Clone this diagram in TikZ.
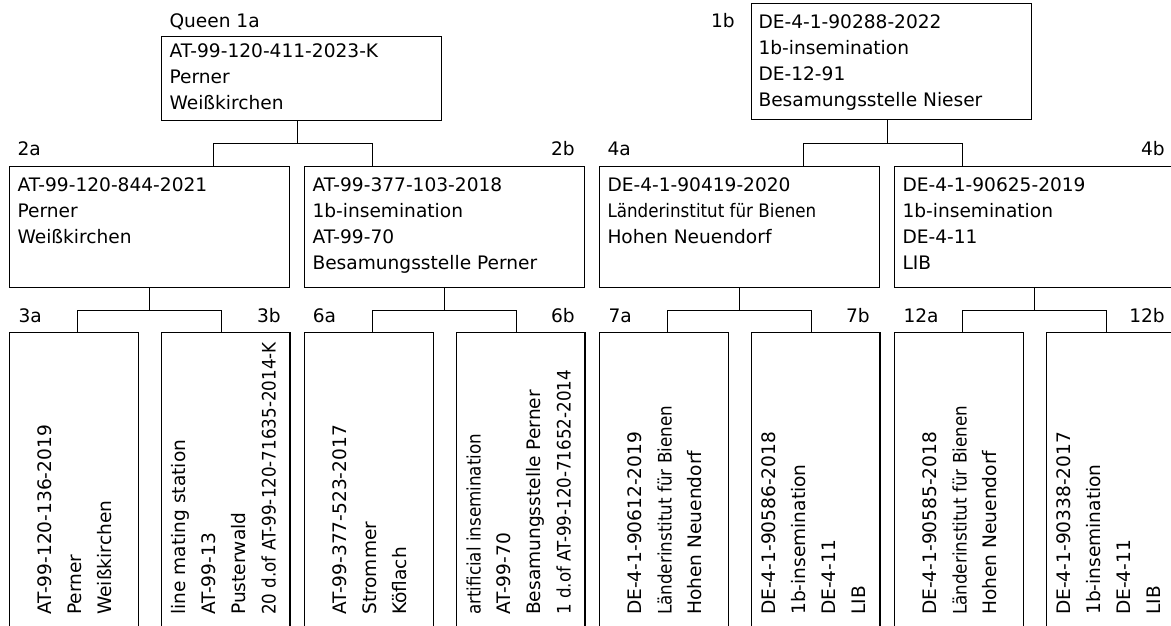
\documentclass[tikz,border=0pt]{standalone}
\usepackage{fontspec}
\setmainfont{DejaVu Sans}
\newfontfamily\condfont{DejaVu Sans Condensed}
\usetikzlibrary{positioning}

\tikzset{
	box/.style={draw, line width=1.1pt, inner sep=0pt, anchor=north west, minimum width=280pt, minimum height=121pt},
	tallbox/.style={box, minimum width=128.7pt, minimum height=320pt},
	% anchored at the baseline of the last line
	txt/.style={align=left, inner sep=0pt, anchor=base west, font=\fontsize{18.6}{26}\selectfont},
	vtxt/.style={txt, rotate=90, font=\fontsize{18.6}{30}\selectfont},
	lab/.style={inner sep=0pt, font=\fontsize{18.6}{22}\selectfont},
	link/.style={line width=1.1pt},
}

\begin{document}
\begin{tikzpicture}[x=1pt,y=-1pt]
		\useasboundingbox (0,0) rectangle (1171,626);
		% queens
		\node[box, minimum height=84.3pt] (q1a) at (160.7,35.7) {};
		\node[lab, anchor=base west] (l1a) at (169.3,27.3) {Queen 1a};
		\node[txt] (t1a) at (169.3,109.3) {AT-99-120-411-2023-K\\Perner\\Weißkirchen};
		\node[box, minimum height=115.7pt] (d1b) at (750.7,3.3) {};
		\node[lab, anchor=base east] (l1b) at (735,27.3) {1b};
		\node[txt] (t1b) at (758.3,106.3) {DE-4-1-90288-2022\\1b-insemination\\DE-12-91\\Besamungsstelle Nieser};
		% second row
		\node[box] (c2a) at (9.3,165.7) {};
		\node[lab, anchor=base west] (l2a) at (17.3,155.7) {2a};
		\node[txt] (t2a) at (17.3,243.7) {AT-99-120-844-2021\\Perner\\Weißkirchen};
		\node[box] (c2b) at (304.3,165.7) {};
		\node[lab, anchor=base east] (l2b) at (575,155.7) {2b};
		\node[txt] (t2b) at (312.3,269.7) {AT-99-377-103-2018\\1b-insemination\\AT-99-70\\Besamungsstelle Perner};
		\node[box] (c4a) at (599.3,165.7) {};
		\node[lab, anchor=base west] (l4a) at (607.3,155.7) {4a};
		\node[txt] (t4a) at (607.3,243.7) {DE-4-1-90419-2020\\{\condfont Länderinstitut für Bienen}\\Hohen Neuendorf};
		\node[box] (c4b) at (894.3,165.7) {};
		\node[lab, anchor=base east] (l4b) at (1165,155.7) {4b};
		\node[txt] (t4b) at (902.3,269.7) {DE-4-1-90625-2019\\1b-insemination\\DE-4-11\\LIB};
		% third row
		\node[tallbox] (c3a) at (9.3,332.3) {};
		\node[lab, anchor=base west] (l3a) at (18.3,322.7) {3a};
		\node[vtxt] (t3a) at (111.7,615) {AT-99-120-136-2019\\Perner\\Weißkirchen};
		\node[tallbox] (c3b) at (160.7,332.3) {};
		\node[lab, anchor=base east] (l3b) at (281,322.7) {3b};
		\node[vtxt] (t3b) at (275.5,615) {line mating station\\AT-99-13\\Pusterwald\\{\condfont 20 d.of AT-99-120-71635-2014-K}};
		\node[tallbox] (c6a) at (304.3,332.3) {};
		\node[lab, anchor=base west] (l6a) at (312.7,322.7) {6a};
		\node[vtxt] (t6a) at (406.7,615) {AT-99-377-523-2017\\Strommer\\Köflach};
		\node[tallbox] (c6b) at (455.7,332.3) {};
		\node[lab, anchor=base east] (l6b) at (575,322.7) {6b};
		\node[vtxt] (t6b) at (570.5,615) {{\condfont artificial insemination}\\AT-99-70\\Besamungsstelle Perner\\{\condfont 1 d.of AT-99-120-71652-2014}};
		\node[tallbox] (c7a) at (599.3,332.3) {};
		\node[lab, anchor=base west] (l7a) at (608.3,322.7) {7a};
		\node[vtxt] (t7a) at (701.7,615) {DE-4-1-90612-2019\\{\condfont Länderinstitut für Bienen}\\Hohen Neuendorf};
		\node[tallbox] (c7b) at (750.7,332.3) {};
		\node[lab, anchor=base east] (l7b) at (870,322.7) {7b};
		\node[vtxt] (t7b) at (865.5,615) {DE-4-1-90586-2018\\1b-insemination\\DE-4-11\\LIB};
		\node[tallbox] (c12a) at (894.3,332.3) {};
		\node[lab, anchor=base west] (l12a) at (903.3,322.7) {12a};
		\node[vtxt] (t12a) at (996.7,615) {DE-4-1-90585-2018\\{\condfont Länderinstitut für Bienen}\\Hohen Neuendorf};
		\node[tallbox] (c12b) at (1045.7,332.3) {};
		\node[lab, anchor=base east] (l12b) at (1165,322.7) {12b};
		\node[vtxt] (t12b) at (1160.5,615) {DE-4-1-90338-2017\\1b-insemination\\DE-4-11\\LIB};
		% links
		\draw[link] ([xshift=-4pt]q1a.south) -- ++(0,22.7) -| ([xshift=64pt]c2a.north);
		\draw[link] ([xshift=-4pt]q1a.south) -- ++(0,22.7) -| ([xshift=-72pt]c2b.north);
		\draw[link] ([xshift=-4pt]d1b.south) -- ++(0,23.7) -| ([xshift=64pt]c4a.north);
		\draw[link] ([xshift=-4pt]d1b.south) -- ++(0,23.7) -| ([xshift=-72pt]c4b.north);
		\foreach \p/\l/\r in {c2a/c3a/c3b, c2b/c6a/c6b, c4a/c7a/c7b, c4b/c12a/c12b} {
			\draw[link] (\p.south) -- ++(0,22.6) -| ([xshift=3.6pt]\l.north);
			\draw[link] (\p.south) -- ++(0,22.6) -| ([xshift=-3.7pt]\r.north);
		}
	\end{tikzpicture}
\end{document}
